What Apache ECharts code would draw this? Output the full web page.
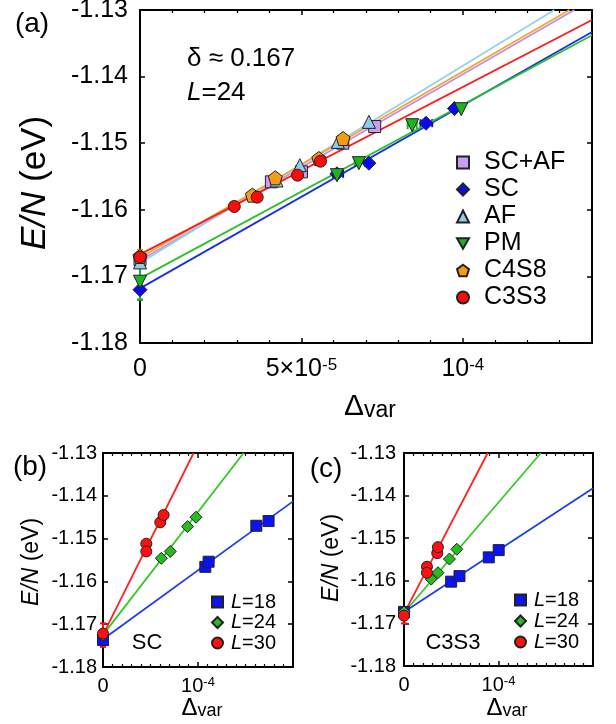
<!DOCTYPE html>
<html>
<head>
<meta charset="utf-8">
<script src="https://cdn.jsdelivr.net/npm/echarts@6/dist/echarts.min.js"></script>
<style>
  html, body { margin: 0; padding: 0; background: #fff; }
  #main { width: 616px; height: 724px; }
</style>
</head>
<body>
<div id="main"></div>
<script>
// ---- panel (a): delta ~ 0.167, L=24 ----
const aSCAF = [[0, -1.1675], [4.07e-5, -1.1558], [5.0e-5, -1.1543], [6.28e-5, -1.1500], [7.27e-5, -1.1475]];
const aSC   = [[0, -1.1720], [6.1e-5, -1.1546], [7.09e-5, -1.1530], [8.86e-5, -1.1470], [9.74e-5, -1.1448]];
const aAF   = [[0, -1.1679], [4.23e-5, -1.1556], [4.95e-5, -1.1533], [6.13e-5, -1.1498], [7.09e-5, -1.1468]];
const aPM   = [[0, -1.1708], [6.1e-5, -1.1548], [6.78e-5, -1.1530], [8.43e-5, -1.1473], [9.95e-5, -1.1449]];
const aC4S8 = [[0, -1.1670], [3.48e-5, -1.1578], [4.19e-5, -1.1552], [5.54e-5, -1.1523], [6.29e-5, -1.1493]];
const aC3S3 = [[0, -1.1671], [2.92e-5, -1.1595], [3.63e-5, -1.1581], [4.88e-5, -1.1548], [5.59e-5, -1.1527]];
// fit lines (two end points each)
const aFitSCAF = [[0, -1.1676], [1.345e-4, -1.13]];
const aFitSC   = [[0, -1.1718], [1.4e-4, -1.1333]];
const aFitAF   = [[0, -1.1680], [1.283e-4, -1.13]];
const aFitPM   = [[0, -1.1703], [1.4e-4, -1.1338]];
const aFitC4S8 = [[0, -1.1672], [1.33e-4, -1.13]];
const aFitC3S3 = [[0, -1.1667], [1.4e-4, -1.1315]];
// error bars: vertical [x, lo, hi], horizontal [y, lo, hi]
const aErrSC   = [[0, -1.1735, -1.1705]];
const aErrPM   = [[0, -1.1735, -1.1681]];
const aErrC4S8 = [[0, -1.1684, -1.1660]];
const aErrHSC  = [[-1.1546, 5.98e-5, 6.29e-5], [-1.1470, 8.69e-5, 9.05e-5]];
const aErrHPM  = [[-1.1530, 6.65e-5, 6.96e-5], [-1.1473, 8.29e-5, 8.57e-5]];

// ---- panel (b): SC ----
const bL18 = [[0, -1.1737], [1.077e-4, -1.1566], [1.112e-4, -1.1554], [1.614e-4, -1.1470], [1.743e-4, -1.1459]];
const bL24 = [[0, -1.1725], [6.14e-5, -1.1546], [7.08e-5, -1.1530], [8.9e-5, -1.1472], [9.79e-5, -1.1450]];
const bL30 = [[0, -1.1722], [4.56e-5, -1.1512], [4.56e-5, -1.1530], [6.03e-5, -1.1462], [6.38e-5, -1.1445]];
const bFit18 = [[0, -1.1735], [2e-4, -1.1413]];
const bFit24 = [[0, -1.1725], [1.48e-4, -1.13]];
const bFit30 = [[0, -1.1725], [9.54e-5, -1.13]];
const bErr30 = [[0, -1.1753, -1.1698]];

// ---- panel (c): C3S3 ----
const cL18 = [[0, -1.1673], [4.99e-5, -1.1602], [5.87e-5, -1.1589], [8.97e-5, -1.1545], [1.002e-4, -1.1528]];
const cL24 = [[0, -1.1673], [2.88e-5, -1.1596], [3.59e-5, -1.1581], [4.81e-5, -1.1549], [5.59e-5, -1.1526]];
const cL30 = [[0, -1.1682], [2.43e-5, -1.1567], [2.43e-5, -1.1581], [3.52e-5, -1.1535], [3.59e-5, -1.1521]];
const cFit18 = [[0, -1.1673], [2e-4, -1.1383]];
const cFit24 = [[0, -1.1675], [1.448e-4, -1.13]];
const cFit30 = [[0, -1.1677], [8.86e-5, -1.13]];
const cErr30 = [[0, -1.1700, -1.1664]];

// tick labels
const aXTicks = [0, 5e-5, 1e-4];
const aXTickText = ['0', '{t|5×10}{s|-5}', '{t|10}{s|-4}'];
const bXTicks = [0, 1e-4];
const bXTickText = ['0', '{t|10}{s|-4}'];
const legendA = ['SC+AF', 'SC', 'AF', 'PM', 'C4S8', 'C3S3'];
const legendB = ['L=18', 'L=24', 'L=30'];

const FONT = "'Liberation Sans', Arial, Helvetica, sans-serif";
const PENTAGON = 'path://M0,-1 L0.951,-0.309 L0.588,0.809 L-0.588,0.809 L-0.951,-0.309 Z';
const DOWN_TRI = 'path://M-1,-0.87 L1,-0.87 L0,0.87 Z';

const myChart = echarts.init(document.getElementById('main'), null, { renderer: 'canvas' });

function xLabel(ticks, texts) {
  return function (v) {
    for (let i = 0; i < ticks.length; i++) {
      if (Math.abs(v - ticks[i]) < 1e-9) return texts[i];
    }
    return '';
  };
}

// one panel: bottom/left axes with labels plus mirrored top/right axes
function makeAxes(g, xmax, xInt, minorSplit, fmt, fs, xMargin, yMargin) {
  const line = { show: true, onZero: false, lineStyle: { color: '#000', width: 2 } };
  const tick = { show: true, inside: true, length: 5, lineStyle: { color: '#000', width: 1.5 } };
  const minor = { show: true, splitNumber: minorSplit, length: 3, lineStyle: { color: '#000', width: 1.2 } };
  const xs = [
    {
      type: 'value', gridIndex: g, min: 0, max: xmax, interval: xInt,
      axisLine: line, axisTick: tick, minorTick: minor,
      splitLine: { show: false }, minorSplitLine: { show: false },
      axisLabel: {
        formatter: fmt, margin: xMargin, color: '#000', fontFamily: FONT,
        showMaxLabel: false,
        rich: {
          t: { fontSize: fs, fontFamily: FONT, color: '#000', verticalAlign: 'bottom' },
          s: { fontSize: Math.round(fs * 0.66), fontFamily: FONT, color: '#000', verticalAlign: 'top' }
        },
        fontSize: fs
      }
    },
    {
      type: 'value', gridIndex: g, position: 'top', min: 0, max: xmax, interval: xInt,
      axisLine: line, axisTick: tick, minorTick: minor,
      splitLine: { show: false }, axisLabel: { show: false }
    }
  ];
  const ys = [
    {
      type: 'value', gridIndex: g, min: -1.18, max: -1.13, interval: 0.01,
      axisLine: line, axisTick: tick, splitLine: { show: false },
      axisLabel: {
        formatter: v => v.toFixed(2), margin: yMargin, color: '#000',
        fontFamily: FONT, fontSize: fs
      }
    },
    {
      type: 'value', gridIndex: g, position: 'right', min: -1.18, max: -1.13, interval: 0.01,
      axisLine: line, axisTick: tick, splitLine: { show: false }, axisLabel: { show: false }
    }
  ];
  return { xs, ys };
}

const axA = makeAxes(0, 1.4e-4, 5e-5, 5, xLabel(aXTicks, aXTickText), 25, 14, 12);
const axB = makeAxes(1, 2e-4, 1e-4, 10, xLabel(bXTicks, bXTickText), 20, 9, 6);
const axC = makeAxes(2, 2e-4, 1e-4, 10, xLabel(bXTicks, bXTickText), 20, 9, 8);

// axis indices: each panel has 2 x and 2 y axes; the first of each carries the data
function pts(name, data, g, symbol, size, color) {
  return {
    name: name, type: 'scatter', data: data,
    xAxisIndex: g * 2, yAxisIndex: g * 2,
    symbol: symbol, symbolSize: size,
    itemStyle: { color: color, borderColor: '#222', borderWidth: 1, opacity: 1 },
    z: 4, silent: true
  };
}
function fit(data, g, color) {
  return {
    type: 'line', data: data, xAxisIndex: g * 2, yAxisIndex: g * 2,
    showSymbol: false, symbol: 'none', clip: true,
    lineStyle: { color: color, width: 1.8 }, z: 3, silent: true
  };
}
function errV(data, g, color) {
  return {
    type: 'custom', data: data, xAxisIndex: g * 2, yAxisIndex: g * 2,
    encode: { x: 0, y: [1, 2] }, z: 2, silent: true,
    renderItem: function (params, api) {
      const p1 = api.coord([api.value(0), api.value(1)]);
      const p2 = api.coord([api.value(0), api.value(2)]);
      const st = { stroke: color, lineWidth: 2 };
      return {
        type: 'group', children: [
          { type: 'line', shape: { x1: p1[0], y1: p1[1], x2: p2[0], y2: p2[1] }, style: st },
          { type: 'line', shape: { x1: p1[0] - 3, y1: p1[1], x2: p1[0] + 3, y2: p1[1] }, style: st },
          { type: 'line', shape: { x1: p2[0] - 3, y1: p2[1], x2: p2[0] + 3, y2: p2[1] }, style: st }
        ]
      };
    }
  };
}
function errH(data, g, color) {
  return {
    type: 'custom', data: data, xAxisIndex: g * 2, yAxisIndex: g * 2,
    encode: { x: [1, 2], y: 0 }, z: 2, silent: true,
    renderItem: function (params, api) {
      const p1 = api.coord([api.value(1), api.value(0)]);
      const p2 = api.coord([api.value(2), api.value(0)]);
      const st = { stroke: color, lineWidth: 2 };
      return {
        type: 'group', children: [
          { type: 'line', shape: { x1: p1[0], y1: p1[1], x2: p2[0], y2: p2[1] }, style: st },
          { type: 'line', shape: { x1: p1[0], y1: p1[1] - 4, x2: p1[0], y2: p1[1] + 4 }, style: st },
          { type: 'line', shape: { x1: p2[0], y1: p2[1] - 4, x2: p2[0], y2: p2[1] + 4 }, style: st }
        ]
      };
    }
  };
}

const C = {
  scaf: '#c69ef2', scafLine: '#bd8fe9',
  sc: '#0a0af2', scLine: '#1a2ee8',
  af: '#90cde6', afLine: '#92d2ec',
  pm: '#1db41d', pmLine: '#2cc02c',
  c4s8: '#f59c17', c4s8Line: '#f7a52a',
  c3s3: '#ff0a0a', c3s3Line: '#ff1a1a',
  blue: '#0a14f0', blueLine: '#1f3fe6',
  green: '#27bb22', greenLine: '#35c825',
  red: '#ff0f0f', redLine: '#ff2020'
};

function legendBox(data, left, top, fs, lh, gap, size, textGap) {
  return {
    data: data, orient: 'vertical', left: left, top: top,
    itemWidth: size, itemHeight: size, itemGap: gap, padding: 0,
    selectedMode: false,
    formatter: function (name) {
      const body = name.indexOf('L=') === 0 ? '{i|L}{n|' + name.slice(1) + '}' : '{n|' + name + '}';
      return '{g| }' + body;
    },
    textStyle: {
      color: '#000', fontSize: fs, fontFamily: FONT, lineHeight: lh,
      rich: {
        g: { width: textGap, fontSize: fs, lineHeight: lh },
        i: { fontSize: fs, fontFamily: FONT, fontStyle: 'italic', color: '#000', lineHeight: lh },
        n: { fontSize: fs, fontFamily: FONT, color: '#000', lineHeight: lh }
      }
    }
  };
}

function txt(x, y, text, fs, extra) {
  return {
    type: 'text', x: x, y: y, silent: true,
    style: Object.assign({
      text: text, fontSize: fs, fontFamily: FONT, fill: '#000',
      align: 'center', verticalAlign: 'middle'
    }, extra || {})
  };
}
function richStyle(fs, sub) {
  return {
    rich: {
      i: { fontSize: fs, fontFamily: FONT, fontStyle: 'italic', fill: '#000' },
      n: { fontSize: fs, fontFamily: FONT, fill: '#000' },
      d: { fontSize: fs, fontFamily: FONT, fill: '#000', verticalAlign: 'bottom' },
      v: { fontSize: sub, fontFamily: FONT, fill: '#000', verticalAlign: 'bottom' }
    }
  };
}
function yName(x, y, fs) {
  const t = txt(x, y, '{i|E/N}{n| (eV)}', fs, richStyle(fs, fs));
  t.rotation = Math.PI / 2;
  return t;
}

const option = {
  backgroundColor: '#fff',
  animation: false,
  grid: [
    { left: 140, top: 10, width: 452, height: 333, outerBoundsMode: 'none' },
    { left: 103, top: 453, width: 190, height: 214, outerBoundsMode: 'none' },
    { left: 404, top: 453, width: 189, height: 213, outerBoundsMode: 'none' }
  ],
  xAxis: [].concat(axA.xs, axB.xs, axC.xs),
  yAxis: [].concat(axA.ys, axB.ys, axC.ys),
  legend: [
    legendBox(legendA, 456, 150, 25, 25, 2, 12, 10),
    legendBox(legendB, 211, 592, 20, 19, 0.5, 11, 3),
    legendBox(legendB, 514, 590, 20, 20, 1, 11, 3)
  ],
  graphic: [
    txt(32, 24, '(a)', 28),
    txt(30, 467, '(b)', 28),
    txt(326, 469, '(c)', 28),
    txt(187, 59, 'δ ≈ 0.167', 26, { align: 'left' }),
    txt(187, 93, '{i|L}{n|=24}', 26, Object.assign({ align: 'left' }, richStyle(26, 26))),
    txt(147, 643, 'SC', 22),
    txt(453, 643, 'C3S3', 22),
    yName(35, 183, 35),
    yName(32, 562, 23),
    yName(332, 558, 23),
    txt(370, 407, '{d|Δ}{v|var}', 28, richStyle(30, 23)),
    txt(202, 708, '{d|Δ}{v|var}', 22, richStyle(24, 18)),
    txt(507, 708, '{d|Δ}{v|var}', 22, richStyle(24, 18))
  ],
  series: [
    // panel (a)
    errV(aErrSC, 0, C.sc), errV(aErrPM, 0, C.pm), errV(aErrC4S8, 0, C.c4s8),
    errH(aErrHSC, 0, C.sc), errH(aErrHPM, 0, C.pm),
    fit(aFitSCAF, 0, C.scafLine), fit(aFitSC, 0, C.scLine), fit(aFitAF, 0, C.afLine),
    fit(aFitPM, 0, C.pmLine), fit(aFitC4S8, 0, C.c4s8Line), fit(aFitC3S3, 0, C.c3s3Line),
    pts('SC+AF', aSCAF, 0, 'rect', 12, C.scaf),
    pts('AF', aAF, 0, 'triangle', 13, C.af),
    pts('SC', aSC, 0, 'diamond', 14, C.sc),
    pts('PM', aPM, 0, DOWN_TRI, 13, C.pm),
    pts('C4S8', aC4S8, 0, PENTAGON, 14, C.c4s8),
    pts('C3S3', aC3S3, 0, 'circle', 12, C.c3s3),
    // panel (b)
    errV(bErr30, 1, C.red),
    fit(bFit18, 1, C.blueLine), fit(bFit24, 1, C.greenLine), fit(bFit30, 1, C.redLine),
    pts('L=18', bL18, 1, 'rect', 11, C.blue),
    pts('L=24', bL24, 1, 'diamond', 12, C.green),
    pts('L=30', bL30, 1, 'circle', 11, C.red),
    // panel (c)
    errV(cErr30, 2, C.red),
    fit(cFit18, 2, C.blueLine), fit(cFit24, 2, C.greenLine), fit(cFit30, 2, C.redLine),
    pts('L=18', cL18, 2, 'rect', 11, C.blue),
    pts('L=24', cL24, 2, 'diamond', 12, C.green),
    pts('L=30', cL30, 2, 'circle', 11, C.red)
  ]
};

myChart.setOption(option);
</script>
</body>
</html>
